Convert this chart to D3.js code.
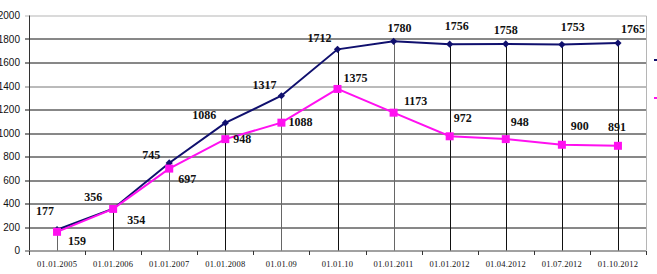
<!DOCTYPE html>
<html>
<head>
<meta charset="utf-8">
<script src="https://cdn.jsdelivr.net/npm/d3@7"></script>
<style>
	body { margin: 0; background: #fff; }
	svg { display: block; }
</style>
</head>
<body>
<div id="chart"></div>
<script>
const categories = [
	"01.01.2005", "01.01.2006", "01.01.2007", "01.01.2008", "01.01.09", "01.01.10",
	"01.01.2011", "01.01.2012", "01.04.2012", "01.07.2012", "01.10.2012"
];
const totalValues = [177, 356, 745, 1086, 1317, 1712, 1780, 1756, 1758, 1753, 1765];
const partValues = [159, 354, 697, 948, 1088, 1375, 1173, 972, 948, 900, 891];
const yTicks = [0, 200, 400, 600, 800, 1000, 1200, 1400, 1600, 1800, 2000];

// label nudges, [dx, dy] from the point
const totalLabelOffsets = [
	[-12, -15], [-20, -8], [-18, -4], [-21, -4], [-17, -7], [-18, -7],
	[6, -9], [7, -14], [0, -10], [11, -14], [15, -10]
];
const partLabelOffsets = [
	[20, 13], [23, 15], [18, 14], [17, 4], [19, 3], [18, -7],
	[22, -8], [13, -14], [14, -13], [18, -15], [-1, -15]
];

const W = 657;
const H = 274;
const margin = { top: 15.5, left: 29, right: 11, bottom: 23.5 };
const width = W - margin.left - margin.right;
const height = H - margin.top - margin.bottom;

const NAVY = "#10106e";
const PINK = "#ff10f0";

const svg = d3
	.select("#chart")
	.append("svg")
	.attr("width", W)
	.attr("height", H)
	.attr("viewBox", `0 0 ${W} ${H}`);

const g = svg
	.append("g")
	.attr("transform", `translate(${margin.left}, ${margin.top})`);

const x = d3.scaleBand().domain(categories).range([0, width]);
const y = d3.scaleLinear().domain([0, 2000]).range([height, 0]);
const cx = d => x(d) + x.bandwidth() / 2;

//gridlines
g.append("g")
	.selectAll("line")
	.data(yTicks.filter(t => t > 0 && t < 2000))
	.enter()
	.append("line")
	.attr("x1", -4)
	.attr("x2", width)
	.attr("y1", d => Math.round(y(d)) + 0.5)
	.attr("y2", d => Math.round(y(d)) + 0.5)
	.attr("stroke", d => (d === 1400 ? "#777" : "#111"))
	.attr("stroke-width", 1);

// plot border (top / right)
g.append("path")
	.attr("d", `M-4,${Math.round(y(2000)) + 0.5}H${width + 0.5}V${height}`)
	.attr("fill", "none")
	.attr("stroke", "#b5b5b5")
	.attr("stroke-width", 1);

// y axis
g.append("line")
	.attr("x1", 0.5)
	.attr("x2", 0.5)
	.attr("y1", y(2000))
	.attr("y2", height)
	.attr("stroke", "#333");

g.append("g")
	.selectAll("text")
	.data(yTicks)
	.enter()
	.append("text")
	.attr("x", -9)
	.attr("y", d => y(d))
	.attr("dy", "0.35em")
	.attr("text-anchor", "end")
	.attr("font-family", "Liberation Sans, Arial, sans-serif")
	.attr("font-size", 10)
	.attr("fill", "#111")
	.text(d => d);

// drop lines
g.append("g")
	.selectAll("line")
	.data(categories)
	.enter()
	.append("line")
	.attr("x1", d => Math.round(cx(d)) + 0.5)
	.attr("x2", d => Math.round(cx(d)) + 0.5)
	.attr("y1", (d, i) => y(Math.max(totalValues[i], partValues[i])))
	.attr("y2", height)
	.attr("stroke", (d, i) => (i % 2 === 0 && i < 7 ? "#666" : "#111"));

// x axis
const xAxis = g
	.append("g")
	.attr("transform", `translate(0, ${Math.round(height) + 0.5})`);

xAxis
	.append("line")
	.attr("x1", -4)
	.attr("x2", width)
	.attr("stroke", "#444");

xAxis
	.selectAll(".tick")
	.data(categories.concat([null]))
	.enter()
	.append("line")
	.attr("x1", (d, i) => Math.round(i * x.step()) + 0.5)
	.attr("x2", (d, i) => Math.round(i * x.step()) + 0.5)
	.attr("y1", 0)
	.attr("y2", 4)
	.attr("stroke", "#333");

xAxis
	.selectAll("text")
	.data(categories)
	.enter()
	.append("text")
	.attr("x", d => cx(d))
	.attr("y", 16)
	.attr("text-anchor", "middle")
	.attr("font-family", "Liberation Serif, Times New Roman, serif")
	.attr("font-size", 8.5)
	.attr("letter-spacing", 0.2)
	.attr("fill", "#111")
	.text(d => d);

// series
const line = d3
	.line()
	.x((d, i) => cx(categories[i]))
	.y(d => y(d));

g.append("path")
	.datum(totalValues)
	.attr("d", line)
	.attr("fill", "none")
	.attr("stroke", NAVY)
	.attr("stroke-width", 2);

g.append("path")
	.datum(partValues)
	.attr("d", line)
	.attr("fill", "none")
	.attr("stroke", PINK)
	.attr("stroke-width", 2);

g.append("g")
	.selectAll("path")
	.data(totalValues)
	.enter()
	.append("path")
	.attr("d", d3.symbol(d3.symbolSquare, 26))
	.attr("transform", (d, i) => `translate(${cx(categories[i])}, ${y(d)}) rotate(45)`)
	.attr("fill", NAVY);

g.append("g")
	.selectAll("path")
	.data(partValues)
	.enter()
	.append("path")
	.attr("d", d3.symbol(d3.symbolSquare, 64))
	.attr("transform", (d, i) => `translate(${cx(categories[i])}, ${y(d)})`)
	.attr("fill", PINK);

// value labels
const labelFont = sel =>
	sel
		.attr("text-anchor", "middle")
		.attr("font-family", "Liberation Serif, Times New Roman, serif")
		.attr("font-weight", "bold")
		.attr("font-size", 12)
		.attr("fill", "#111");

g.append("g")
	.selectAll("text")
	.data(totalValues)
	.enter()
	.append("text")
	.attr("x", (d, i) => cx(categories[i]) + totalLabelOffsets[i][0])
	.attr("y", (d, i) => y(d) + totalLabelOffsets[i][1])
	.call(labelFont)
	.text(d => d);

g.append("g")
	.selectAll("text")
	.data(partValues)
	.enter()
	.append("text")
	.attr("x", (d, i) => cx(categories[i]) + partLabelOffsets[i][0])
	.attr("y", (d, i) => y(d) + partLabelOffsets[i][1])
	.call(labelFont)
	.text(d => d);

// legend, mostly off the right edge
const legend = svg.append("g").attr("transform", "translate(654, 0)");

[NAVY, PINK].forEach((c, i) => {
	legend
		.append("line")
		.attr("x1", 0)
		.attr("x2", 24)
		.attr("y1", 60 + i * 38)
		.attr("y2", 60 + i * 38)
		.attr("stroke", c)
		.attr("stroke-width", 2);
});
</script>
</body>
</html>
